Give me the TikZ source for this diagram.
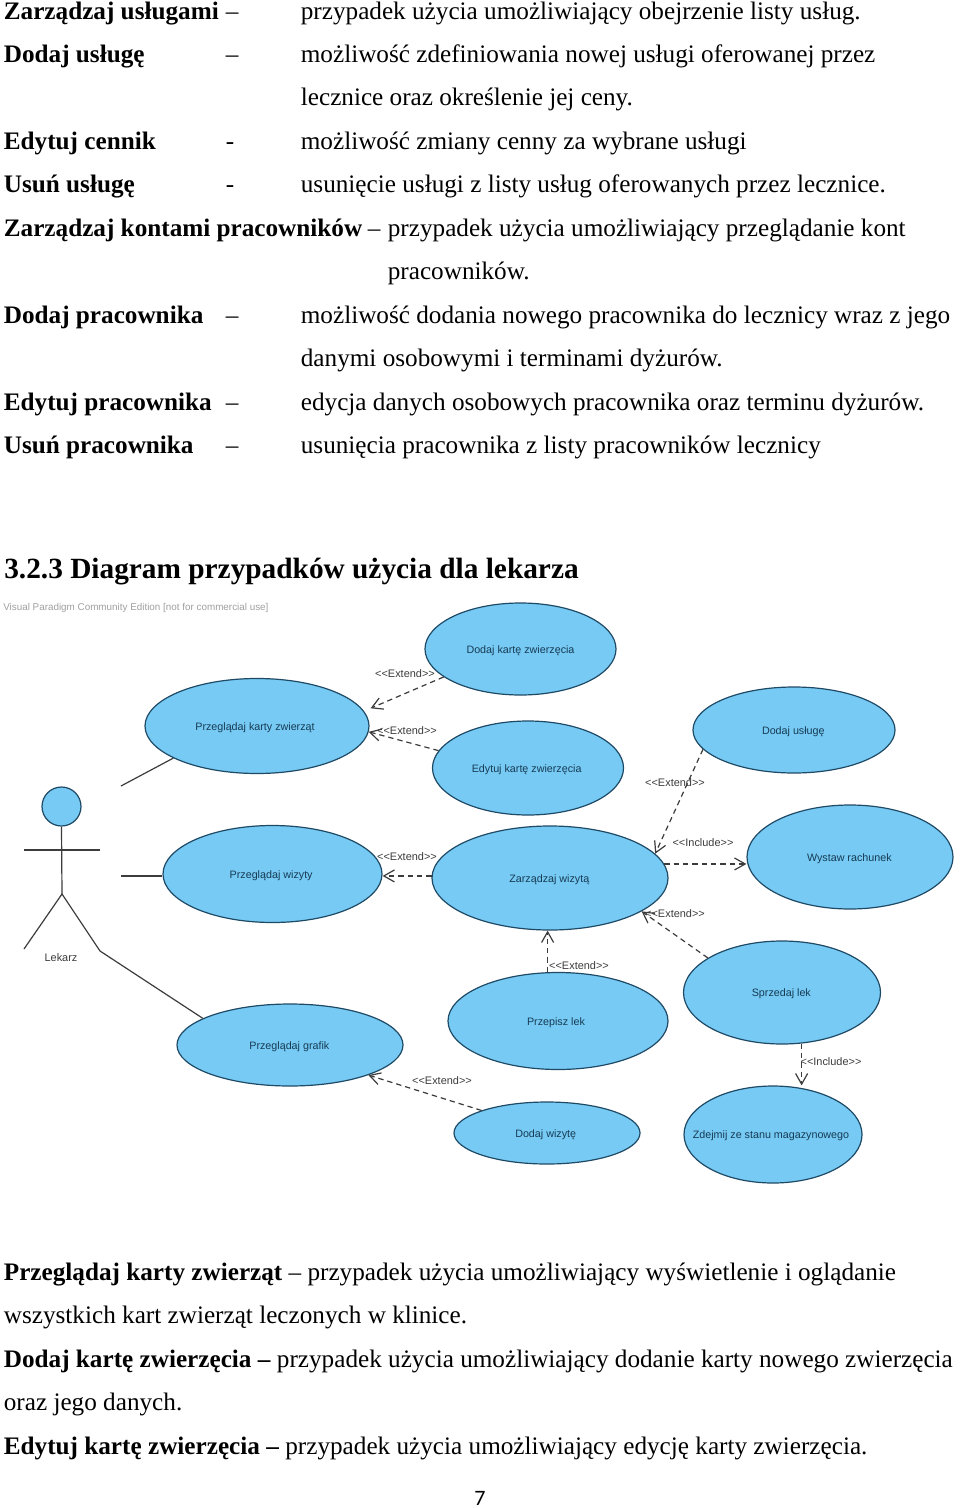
\documentclass[tikz,border=0pt]{standalone}
\usepackage{fontspec}
\setmainfont{Liberation Serif}
\newfontfamily\umlfont{Liberation Sans}
\newfontfamily\pagefont{Carlito}
\usetikzlibrary{shapes.geometric,arrows.meta,calc}
\definecolor{ucfill}{HTML}{76CAF3}
\definecolor{ucline}{HTML}{1F4A66}
\definecolor{uctext}{HTML}{173B55}
\definecolor{umlline}{HTML}{3C3C3C}
\definecolor{wmark}{HTML}{A0A0A0}
\tikzset{
  line/.style={inner sep=0pt,anchor=base west,xshift=-0.3pt,yshift=-0.4pt,font=\fontsize{18.9}{20}\selectfont},
  heading/.style={inner sep=0pt,anchor=base west,font=\fontsize{22}{24}\selectfont\bfseries},
  uc/.style 2 args={ellipse,draw=ucline,fill=ucfill,line width=0.9pt,inner sep=0pt,
    minimum width=#1*0.75pt,minimum height=#2*0.75pt,text=uctext,
    font=\umlfont\fontsize{8.05}{10}\selectfont},
  stereo/.style={inner sep=0pt,yshift=-0.75pt,text=umlline,font=\umlfont\fontsize{8.2}{10}\selectfont},
  assoc/.style={draw=umlline,line width=0.9pt},
  dep/.style={draw=umlline,line width=0.9pt,dash pattern=on 4pt off 3pt,
    -{Straight Barb[length=8pt,width=9pt,line width=0.9pt]}},
}
% text of a use case: no size of its own, so the ellipse keeps its place; optional shift doubled for centring
\newcommand{\uctxt}[2][0]{\makebox[0pt]{\hspace*{#1pt}\smash{\raisebox{-3.2pt}{#2}}}}
\begin{document}
\begin{tikzpicture}[x=0.75pt,y=-0.75pt]
\useasboundingbox[fill=white] (0,0) rectangle (960,1508);
% upper text
\node[line] (l1a) at (4,19) {\textbf{Zarządzaj usługami}};
\node[line] (l1b) at (226,19) {–};
\node[line] (l1c) at (301,19) {przypadek użycia umożliwiający obejrzenie listy usług.};
\node[line] (l2a) at (4,62) {\textbf{Dodaj usługę}};
\node[line] (l2b) at (226,62) {–};
\node[line] (l2c) at (301,62) {możliwość zdefiniowania nowej usługi oferowanej przez};
\node[line] (l3c) at (301,105) {lecznice oraz określenie jej ceny.};
\node[line] (l4a) at (4,149) {\textbf{Edytuj cennik}};
\node[line] (l4b) at (226,149) {-};
\node[line] (l4c) at (301,149) {możliwość zmiany cenny za wybrane usługi};
\node[line] (l5a) at (4,192) {\textbf{Usuń usługę}};
\node[line] (l5b) at (226,192) {-};
\node[line] (l5c) at (301,192) {usunięcie usługi z listy usług oferowanych przez lecznice.};
\node[line] (l6a) at (4,236) {\textbf{Zarządzaj kontami pracowników}};
\node[line] (l6b) at (368,236) {–};
\node[line] (l6c) at (388,236) {przypadek użycia umożliwiający przeglądanie kont};
\node[line] (l7c) at (388,279) {pracowników.};
\node[line] (l8a) at (4,323) {\textbf{Dodaj pracownika}};
\node[line] (l8b) at (226,323) {–};
\node[line] (l8c) at (301,323) {możliwość dodania nowego pracownika do lecznicy wraz z jego};
\node[line] (l9c) at (301,366) {danymi osobowymi i terminami dyżurów.};
\node[line] (l10a) at (4,410) {\textbf{Edytuj pracownika}};
\node[line] (l10b) at (226,410) {–};
\node[line] (l10c) at (301,410) {edycja danych osobowych pracownika oraz terminu dyżurów.};
\node[line] (l11a) at (4,453) {\textbf{Usuń pracownika}};
\node[line] (l11b) at (226,453) {–};
\node[line] (l11c) at (301,453) {usunięcia pracownika z listy pracowników lecznicy};
\node[heading] (head32) at (4,578) {3.2.3 Diagram przypadków użycia dla lekarza};
% watermark
\node[inner sep=0pt,anchor=west,text=wmark,font=\umlfont\fontsize{7.4}{10}\selectfont] (wm) at (3,608) {Visual Paradigm Community Edition [not for commercial use]};
% use cases
\node[uc={191}{92}] (kz) at (520.5,649) {\uctxt{Dodaj kartę zwierzęcia}};
\node[uc={224}{95}] (pk) at (257,726) {\uctxt[-3]{Przeglądaj karty zwierząt}};
\node[uc={191}{94}] (ek) at (528,768) {\uctxt[-2]{Edytuj kartę zwierzęcia}};
\node[uc={202}{86}] (du) at (794,730) {\uctxt[-1]{Dodaj usługę}};
\node[uc={206}{104}] (wr) at (850,857) {\uctxt[-1]{Wystaw rachunek}};
\node[uc={236}{104}] (zw) at (550,878) {\uctxt[-1]{Zarządzaj wizytą}};
\node[uc={219}{97}] (pw) at (272.5,874) {\uctxt[-2]{Przeglądaj wizyty}};
\node[uc={197}{103}] (sl) at (782,992.5) {\uctxt[-1]{Sprzedaj lek}};
\node[uc={220}{97}] (pl) at (558,1021) {\uctxt[-3]{Przepisz lek}};
\node[uc={226}{82}] (pg) at (290,1045) {\uctxt[-1]{Przeglądaj grafik}};
\node[uc={186}{62}] (dw) at (547,1133) {\uctxt[-2]{Dodaj wizytę}};
\node[uc={178}{97}] (zs) at (773,1134.5) {\uctxt[-3]{Zdejmij ze stanu magazynowego}};
% actor
\node[circle,draw=ucline,fill=ucfill,line width=0.9pt,inner sep=0pt,minimum size=39*0.75pt] (ahead) at (61.5,806.5) {};
\coordinate (hip) at (62,894);
\coordinate (larm) at (24,850);
\coordinate (rarm) at (100,850);
\coordinate (armc) at (62,850);
\coordinate (lfoot) at (24,949);
\coordinate (rfoot) at (100,951);
\coordinate (a1) at (121,786);
\coordinate (a2) at (121,876);
\draw[assoc] (ahead.south) -- (hip);
\draw[assoc] (larm) -- (armc) -- (rarm);
\draw[assoc] (lfoot) -- (hip) -- (rfoot);
\node[inner sep=0pt,text=umlline,font=\umlfont\fontsize{8.2}{10}\selectfont] (alabel) at (61,958) {Lekarz};
% associations
\draw[assoc] (a1) -- (pk.201.7);
\draw[assoc] (a2) -- (a2 -| pw.west);
\draw[assoc] (rfoot) -- (pg.163.8);
% dependencies
\draw[dep] (kz.200.5) -- ($(pk.9.6)+(8,-1)$);
\draw[dep] (ek.169.75) -- (pk.357.4);
\draw[dep] (zw.179.5) -- (zw.179.5 -| pw.east);
\draw[dep] (du.192.5) -- (zw.13.4);
\draw[dep] (zw.7) -- (zw.7 -| wr.west);
\draw[dep] (sl.155.3) -- (zw.340.8);
\draw[dep] (pl.102.85) -- (pl.102.85 |- zw.south);
\draw[dep] (sl.291.6) -- (sl.291.6 |- zs.north);
\draw[dep] (dw.161.8) -- (pg.339.6);
% stereotypes
\node[stereo] (s1) at (405,673) {<{}<Extend>{}>};
\node[stereo] (s2) at (407,730) {<{}<Extend>{}>};
\node[stereo] (s3) at (407,856) {<{}<Extend>{}>};
\node[stereo] (s4) at (675,782) {<{}<Extend>{}>};
\node[stereo] (s5) at (703,842) {<{}<Include>{}>};
\node[stereo] (s6) at (675,913) {<{}<Extend>{}>};
\node[stereo] (s7) at (579,964.5) {<{}<Extend>{}>};
\node[stereo] (s8) at (831,1061) {<{}<Include>{}>};
\node[stereo] (s9) at (442,1080) {<{}<Extend>{}>};
% lower text
\node[line] (b1) at (4,1280) {\textbf{Przeglądaj karty zwierząt} – przypadek użycia umożliwiający wyświetlenie i oglądanie};
\node[line] (b2) at (4,1323) {wszystkich kart zwierząt leczonych w klinice.};
\node[line] (b3) at (4,1367) {\textbf{Dodaj kartę zwierzęcia –} przypadek użycia umożliwiający dodanie karty nowego zwierzęcia};
\node[line] (b4) at (4,1410) {oraz jego danych.};
\node[line] (b5) at (4,1454) {\textbf{Edytuj kartę zwierzęcia –} przypadek użycia umożliwiający edycję karty zwierzęcia.};
\node[inner sep=0pt,font=\pagefont\fontsize{16.5}{18}\selectfont] (pnum) at (480,1498) {7};
\end{tikzpicture}
\end{document}
